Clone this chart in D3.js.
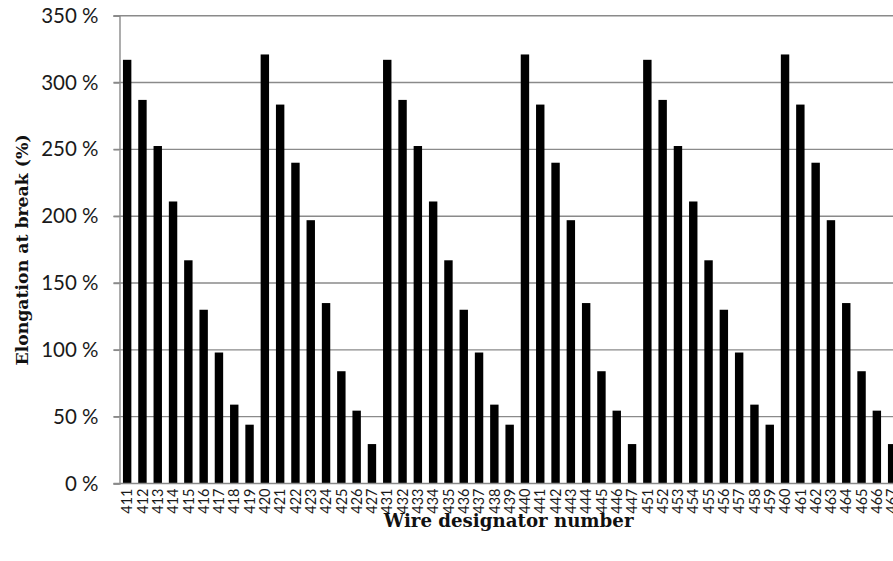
<!DOCTYPE html>
<html>
<head>
<meta charset="utf-8">
<script src="https://cdn.jsdelivr.net/npm/d3@7/dist/d3.min.js"></script>
<style>
  html, body { margin: 0; padding: 0; background: #fff; }
  svg { display: block; overflow: hidden; }
</style>
</head>
<body>
<svg id="chart" width="893" height="561"></svg>
<script>
// Wire designators (x categories) and elongation at break in percent
const wires = [
  "411","412","413","414","415","416","417","418","419",
  "420","421","422","423","424","425","426","427",
  "431","432","433","434","435","436","437","438","439",
  "440","441","442","443","444","445","446","447",
  "451","452","453","454","455","456","457","458","459",
  "460","461","462","463","464","465","466","467"
];
const elongation = [
  317, 287, 252.5, 211, 167, 130, 98, 59, 44,
  321, 283.5, 240, 197, 135, 84, 54.5, 29.5,
  317, 287, 252.5, 211, 167, 130, 98, 59, 44,
  321, 283.5, 240, 197, 135, 84, 54.5, 29.5,
  317, 287, 252.5, 211, 167, 130, 98, 59, 44,
  321, 283.5, 240, 197, 135, 84, 54.5, 29.5
];
const yTicks = [0, 50, 100, 150, 200, 250, 300, 350];

const svg = d3.select("#chart");
const plotLeft = 119.5, plotTop = 15.7, plotBottom = 483.5;
const step = 15.3;
const plotRight = plotLeft + step * wires.length;

const x = d3.scaleBand().domain(wires).range([plotLeft, plotRight]).paddingInner(0.45).paddingOuter(0.225);
const y = d3.scaleLinear().domain([0, 350]).range([plotBottom, plotTop]);

const gridColor = "#8a8a8a";

// horizontal gridlines with outward tick stubs
svg.append("g")
  .selectAll("line")
  .data(yTicks.filter(d => d > 0))
  .join("line")
  .attr("x1", plotLeft - 6).attr("x2", plotRight)
  .attr("y1", d => y(d)).attr("y2", d => y(d))
  .attr("stroke", gridColor).attr("stroke-width", 1.4);

// bars
svg.append("g")
  .selectAll("rect")
  .data(wires)
  .join("rect")
  .attr("x", d => x(d))
  .attr("width", x.bandwidth())
  .attr("y", (d, i) => y(elongation[i]))
  .attr("height", (d, i) => y(0) - y(elongation[i]))
  .attr("fill", "#000");

// y axis
const yAxis = d3.axisLeft(y).tickValues(yTicks).tickSize(6).tickPadding(15)
  .tickFormat(d => d + " %");
const gy = svg.append("g").attr("transform", `translate(${plotLeft},0)`).call(yAxis);
gy.select(".domain").attr("stroke", gridColor).attr("stroke-width", 1.4);
gy.selectAll(".tick line").attr("stroke", gridColor).attr("stroke-width", 1.4);
gy.selectAll(".tick text")
  .attr("font-family", "Lato, 'Open Sans', sans-serif")
  .attr("font-size", 20.5).attr("fill", "#1a1a1a");

// x axis
const xAxis = d3.axisBottom(x).tickSize(0).tickPadding(5);
const gx = svg.append("g").attr("transform", `translate(0,${plotBottom})`).call(xAxis);
gx.select(".domain").attr("stroke", gridColor).attr("stroke-width", 1.4)
  .attr("d", `M${plotLeft - 6},0H${plotRight}`);
gx.selectAll(".tick text")
  .attr("font-family", "Lato, 'Open Sans', sans-serif")
  .attr("font-size", 14.5).attr("fill", "#1a1a1a")
  .attr("text-anchor", "end")
  .attr("dy", "0.36em")
  .attr("transform", "translate(0,5) rotate(-90)")
  .attr("x", 0).attr("y", 0);

// axis titles
svg.append("text")
  .attr("x", (plotLeft + plotRight) / 2 - 1).attr("y", 527)
  .attr("text-anchor", "middle")
  .attr("font-family", "'DejaVu Serif', serif")
  .attr("font-weight", "bold").attr("font-size", 18.2)
  .attr("fill", "#111")
  .text("Wire designator number");

svg.append("text")
  .attr("transform", `translate(28,250) rotate(-90)`)
  .attr("text-anchor", "middle")
  .attr("font-family", "'DejaVu Serif', serif")
  .attr("font-weight", "bold").attr("font-size", 17.3)
  .attr("fill", "#111")
  .text("Elongation at break (%)");
</script>
</body>
</html>
